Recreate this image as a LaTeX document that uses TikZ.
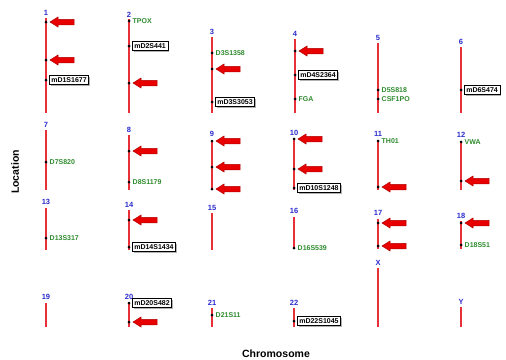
\documentclass[tikz,border=0pt]{standalone}
\usepackage{fontspec}
\setmainfont{Liberation Sans}
\usetikzlibrary{shadows}
\definecolor{linered}{HTML}{E83038}
\definecolor{arrred}{HTML}{E80000}
\definecolor{arredge}{HTML}{B00000}
\definecolor{mkgreen}{HTML}{2E8B2E}
\definecolor{numblue}{HTML}{2B2BD0}
\tikzset{
  chrom/.style={draw=linered, line width=2pt},
  dotm/.style={circle, fill=black, inner sep=0pt, minimum size=3pt},
  num/.style={font=\fontsize{7.5}{7.5}\selectfont\bfseries, text=numblue, inner sep=0pt},
  mk/.style={font=\fontsize{7}{7}\selectfont\bfseries, text=mkgreen, inner sep=0pt, anchor=west},
  mbox/.style={draw=black, fill=white, font=\fontsize{7}{7}\selectfont\bfseries, inner sep=2pt, anchor=west, line width=0.6pt,
    drop shadow={shadow xshift=1.5pt, shadow yshift=-1.5pt, fill=gray!60, opacity=1}},
  arrowst/.style={fill=arrred, draw=arredge, line width=0.5pt, line join=miter},
  axlab/.style={font=\fontsize{10.5}{11}\selectfont\bfseries, inner sep=0pt}
}
\newcommand\mychr[6]{\coordinate (#1t) at (#2,#3); \coordinate (#1b) at (#2,#4); \draw[chrom] (#1t) -- (#1b); \node[num] (#1n) at (#2,#5) {#6};}
\newcommand\mydot[3]{\node[dotm] (#1) at (#2,#3) {};}
\newcommand\myarr[1]{\draw[arrowst] ([xshift=4pt]#1.center) -- ++(8,-5) -- ++(0,2.25) -- ++(16,0) -- ++(0,5.5) -- ++(-16,0) -- ++(0,2.25) -- cycle;}
\newcommand\mymk[3]{\node[mk] (#1l) at ([xshift=3.5pt]#1.center) {#2};}
\newcommand\mybox[2]{\node[mbox] (#1l) at ([xshift=3pt]#1.center) {#2};}
\begin{document}
\begin{tikzpicture}[x=1pt, y=-1pt]
\fill[white] (0,0) rectangle (506,359);
\useasboundingbox (0,0) rectangle (506,359);
% Row 1
\mychr{c1}{46}{18}{113}{13}{1}
\mychr{c2}{129}{19}{113}{15}{2}
\mychr{c3}{212}{37}{113}{32}{3}
\mychr{c4}{295}{39}{113}{34}{4}
\mychr{c5}{378}{43}{113}{38}{5}
\mychr{c6}{461}{47}{113}{42}{6}
% Row 2
\mychr{c7}{46}{130}{190}{125}{7}
\mychr{c8}{129}{135}{190}{130}{8}
\mychr{c9}{212}{140}{190}{134}{9}
\mychr{c10}{294}{138}{190}{133}{10}
\mychr{c11}{378}{140}{190}{134}{11}
\mychr{c12}{461}{141}{190}{135}{12}
% Row 3
\mychr{c13}{46}{208}{250}{202}{13}
\mychr{c14}{129}{210}{250}{205}{14}
\mychr{c15}{212}{213}{250}{208}{15}
\mychr{c16}{294}{217}{249}{211}{16}
\mychr{c17}{378}{219}{249}{213}{17}
\mychr{c18}{461}{221}{249}{216}{18}
\mychr{cX}{378}{268}{327}{263}{X}
\mychr{cY}{461}{307}{327}{302}{Y}
% Row 4
\mychr{c19}{46}{303}{327}{297}{19}
\mychr{c20}{129}{302}{327}{297}{20}
\mychr{c21}{212}{308}{327}{303}{21}
\mychr{c22}{294}{308}{327}{303}{22}
% Markers chr 1
\mydot{d1a}{46}{22}\myarr{d1a}
\mydot{d1b}{46}{60}\myarr{d1b}
\mydot{d1c}{46}{80}\mybox{d1c}{mD1S1677}
% chr 2
\mydot{d2a}{129}{21}\mymk{d2a}{TPOX}{}
\mydot{d2b}{129}{46}\mybox{d2b}{mD2S441}
\mydot{d2c}{129}{83}\myarr{d2c}
% chr 3
\mydot{d3a}{212}{53}\mymk{d3a}{D3S1358}{}
\mydot{d3b}{212}{69}\myarr{d3b}
\mydot{d3c}{212}{102}\mybox{d3c}{mD3S3053}
% chr 4
\mydot{d4a}{295}{51}\myarr{d4a}
\mydot{d4b}{295}{75}\mybox{d4b}{mD4S2364}
\mydot{d4c}{295}{99}\mymk{d4c}{FGA}{}
% chr 5
\mydot{d5a}{378}{90}\mymk{d5a}{D5S818}{}
\mydot{d5b}{378}{99}\mymk{d5b}{CSF1PO}{}
% chr 6
\mydot{d6a}{461}{90}\mybox{d6a}{mD6S474}
% chr 7
\mydot{d7a}{46}{162}\mymk{d7a}{D7S820}{}
% chr 8
\mydot{d8a}{129}{151}\myarr{d8a}
\mydot{d8b}{129}{182}\mymk{d8b}{D8S1179}{}
% chr 9
\mydot{d9a}{212}{141}\myarr{d9a}
\mydot{d9b}{212}{167}\myarr{d9b}
\mydot{d9c}{212}{189}\myarr{d9c}
% chr 10
\mydot{d10a}{294}{139}\myarr{d10a}
\mydot{d10b}{294}{169}\myarr{d10b}
\mydot{d10c}{294}{188}\mybox{d10c}{mD10S1248}
% chr 11
\mydot{d11a}{378}{141}\mymk{d11a}{TH01}{}
\mydot{d11b}{378}{187}\myarr{d11b}
% chr 12
\mydot{d12a}{461}{142}\mymk{d12a}{VWA}{}
\mydot{d12b}{461}{181}\myarr{d12b}
% chr 13
\mydot{d13a}{46}{238}\mymk{d13a}{D13S317}{}
% chr 14
\mydot{d14a}{129}{220}\myarr{d14a}
\mydot{d14b}{129}{247}\mybox{d14b}{mD14S1434}
% chr 16
\mydot{d16a}{294}{248}\mymk{d16a}{D16S539}{}
% chr 17
\mydot{d17a}{378}{223}\myarr{d17a}
\mydot{d17b}{378}{246}\myarr{d17b}
% chr 18
\mydot{d18a}{461}{223}\myarr{d18a}
\mydot{d18b}{461}{245}\mymk{d18b}{D18S51}{}
% chr 20
\mydot{d20a}{129}{303}\mybox{d20a}{mD20S482}
\mydot{d20b}{129}{322}\myarr{d20b}
% chr 21
\mydot{d21a}{212}{315}\mymk{d21a}{D21S11}{}
% chr 22
\mydot{d22a}{294}{321}\mybox{d22a}{mD22S1045}
% axis labels
\node[axlab, rotate=90] (loc) at (15,172) {Location};
\node[axlab] (chrm) at (276,354) {Chromosome};
\end{tikzpicture}
\end{document}
